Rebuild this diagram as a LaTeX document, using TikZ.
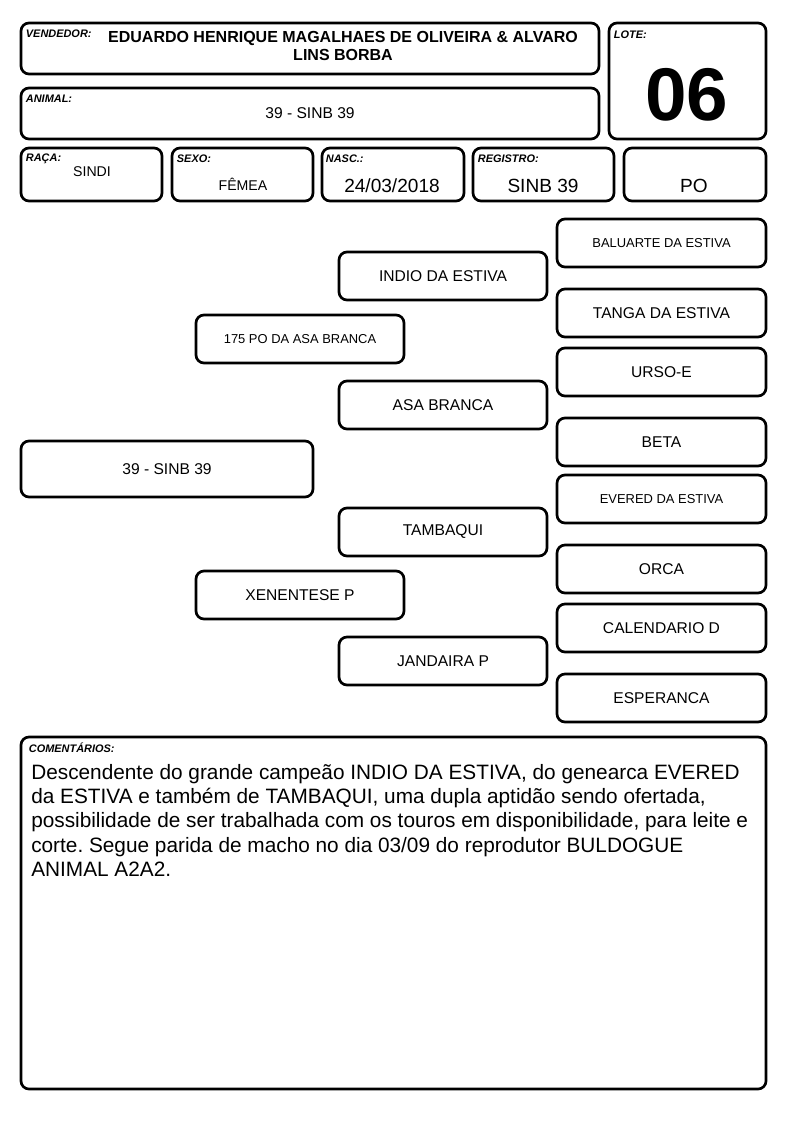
\documentclass[tikz,border=0pt]{standalone}
\usepackage{fontspec}
\setmainfont{Liberation Sans}
\usepackage{tikz}
\frenchspacing

\tikzset{
  card/.style 2 args={draw, line width=2pt, rounded corners=6pt,
    minimum width=#1*0.75pt, minimum height=#2*0.75pt, inner sep=0pt},
  tag/.style={anchor=north west, inner sep=0pt, font=\bfseries\itshape\fontsize{8.2}{9}\selectfont},
  big/.style={font=\fontsize{11.7}{14}\selectfont},
  small/.style={font=\fontsize{9.7}{12}\selectfont}
}

\begin{document}
\begin{tikzpicture}[x=0.75pt, y=-0.75pt]
  \useasboundingbox (0,0) rectangle (794,1123);
  % Header boxes
  \node[card={578}{51}] (vend) at (310,48.5) {};
  \node[card={157}{116}] (lote) at (687.5,81) {};
  \node[card={578}{51}] (anim) at (310,113.5) {};
  \node[card={141}{53}] (raca) at (91.5,174.5) {};
  \node[card={141}{53}] (sexo) at (242.5,174.5) {};
  \node[card={142}{53}] (nasc) at (393,174.5) {};
  \node[card={141}{53}] (reg) at (543.5,174.5) {};
  \node[card={142}{53}] (cat) at (695,174.5) {};
  % Labels
  \node[tag] at ([shift={(6,8)}]vend.north west) {VENDEDOR:};
  \node[tag] at ([shift={(6,9)}]lote.north west) {LOTE:};
  \node[tag] at ([shift={(6,8)}]anim.north west) {ANIMAL:};
  \node[tag] at ([shift={(6,7)}]raca.north west) {RAÇA:};
  \node[tag] at ([shift={(6,8)}]sexo.north west) {SEXO:};
  \node[tag] at ([shift={(5,8)}]nasc.north west) {NASC.:};
  \node[tag] at ([shift={(6,8)}]reg.north west) {REGISTRO:};
  % Values
  \node[align=center, font=\bfseries\fontsize{12}{14.2}\selectfont] at (343,46)
    {EDUARDO HENRIQUE MAGALHAES DE OLIVEIRA \& ALVARO\\LINS BORBA};
  \node[font=\bfseries\fontsize{56}{62}\selectfont] at (687,95) {06};
  \node[big] at (310,113) {39 - SINB 39};
  \node[font=\fontsize{10.6}{12}\selectfont] at (92,172) {SINDI};
  \node[font=\fontsize{10.6}{12}\selectfont] at (243,184) {FÊMEA};
  \node[font=\fontsize{14.3}{16}\selectfont] at (392,186) {24/03/2018};
  \node[font=\fontsize{14.3}{16}\selectfont] at (543,186) {SINB 39};
  \node[font=\fontsize{14.3}{16}\selectfont] at (694,186) {PO};
  % Pedigree
  \node[card={292}{56}, big] (self) at (167,469) {39 - SINB 39};
  \node[card={208}{48}, big] (sire) at (443,276) {INDIO DA ESTIVA};
  \node[card={208}{48}, small] (ss) at (300,339) {175 PO DA ASA BRANCA};
  \node[card={208}{48}, big] (sd) at (443,405) {ASA BRANCA};
  \node[card={208}{48}, big] (dam) at (443,532) {TAMBAQUI};
  \node[card={208}{48}, big] (ds) at (300,595) {XENENTESE P};
  \node[card={208}{48}, big] (dd) at (443,661) {JANDAIRA P};
  % Great-grandparents
  \node[card={209}{48}, small] (sss) at (661.5,243) {BALUARTE DA ESTIVA};
  \node[card={209}{48}, big] (ssd) at (661.5,313) {TANGA DA ESTIVA};
  \node[card={209}{48}, big] (sds) at (661.5,372) {URSO-E};
  \node[card={209}{48}, big] (sdd) at (661.5,442) {BETA};
  \node[card={209}{48}, small] (dss) at (661.5,499) {EVERED DA ESTIVA};
  \node[card={209}{48}, big] (dsd) at (661.5,569) {ORCA};
  \node[card={209}{48}, big] (dds) at (661.5,628) {CALENDARIO D};
  \node[card={209}{48}, big] (ddd) at (661.5,698) {ESPERANCA};
  % Comments
  \node[card={745}{352}] (com) at (393.5,913) {};
  \node[tag] at ([shift={(9,7)}]com.north west) {COMENTÁRIOS:};
  \node[anchor=north west, inner sep=0pt, align=left,
    font=\fontsize{15.6}{18.2}\selectfont] (comtext) at (31,764)
    {Descendente do grande campeão INDIO DA ESTIVA, do genearca EVERED\\
     da ESTIVA e também de TAMBAQUI, uma dupla aptidão sendo ofertada,\\
     possibilidade de ser trabalhada com os touros em disponibilidade, para leite e\\
     corte. Segue parida de macho no dia 03/09 do reprodutor BULDOGUE\\
     ANIMAL A2A2.};
\end{tikzpicture}
\end{document}
